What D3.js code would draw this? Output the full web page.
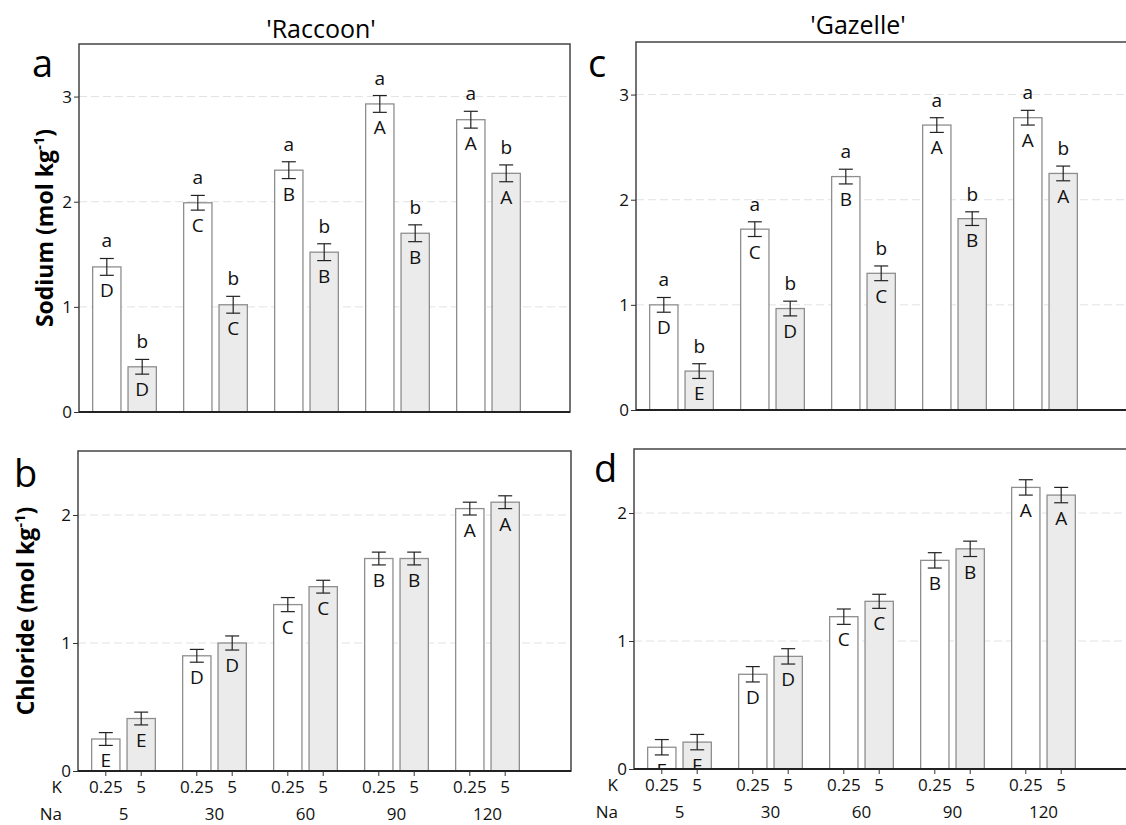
<!DOCTYPE html>
<html>
<head>
<meta charset="utf-8">
<script src="https://cdn.jsdelivr.net/npm/d3@7"></script>
<style>
  body { margin: 0; background: #fff; }
  svg { display: block; font-family: "Open Sans", sans-serif; }
</style>
</head>
<body>
<svg id="chart" width="1126" height="825"></svg>
<script>
// groups and levels
var naLevels = ['5', '30', '60', '90', '120'];
var kLevels = ['0.25', '5'];

// bar order: Na5 K0.25, Na5 K5, Na30 K0.25, ...
var sodiumRaccoon = [1.38, 0.43, 1.99, 1.02, 2.30, 1.52, 2.93, 1.70, 2.78, 2.27];
var sodiumRaccoonErr = [0.08, 0.07, 0.07, 0.08, 0.08, 0.08, 0.08, 0.08, 0.08, 0.08];
var sodiumRaccoonK = ['a', 'b', 'a', 'b', 'a', 'b', 'a', 'b', 'a', 'b'];
var sodiumRaccoonNa = ['D', 'D', 'C', 'C', 'B', 'B', 'A', 'B', 'A', 'A'];

var sodiumGazelle = [1.00, 0.37, 1.72, 0.965, 2.22, 1.30, 2.71, 1.82, 2.78, 2.25];
var sodiumGazelleErr = [0.07, 0.07, 0.07, 0.07, 0.07, 0.07, 0.07, 0.065, 0.07, 0.07];
var sodiumGazelleK = ['a', 'b', 'a', 'b', 'a', 'b', 'a', 'b', 'a', 'b'];
var sodiumGazelleNa = ['D', 'E', 'C', 'D', 'B', 'C', 'A', 'B', 'A', 'A'];

var chlorideRaccoon = [0.25, 0.41, 0.90, 1.00, 1.30, 1.44, 1.66, 1.66, 2.05, 2.10];
var chlorideRaccoonErr = [0.05, 0.05, 0.05, 0.055, 0.055, 0.05, 0.05, 0.05, 0.05, 0.05];
var chlorideRaccoonNa = ['E', 'E', 'D', 'D', 'C', 'C', 'B', 'B', 'A', 'A'];

var chlorideGazelle = [0.17, 0.21, 0.74, 0.88, 1.19, 1.31, 1.63, 1.72, 2.20, 2.14];
var chlorideGazelleErr = [0.06, 0.06, 0.06, 0.06, 0.06, 0.055, 0.06, 0.06, 0.06, 0.06];
var chlorideGazelleNa = ['E', 'E', 'D', 'D', 'C', 'C', 'B', 'B', 'A', 'A'];

var sodiumTicks = [0, 1, 2, 3];
var chlorideTicks = [0, 1, 2];

var svg = d3.select('#chart');

function drawPanel(p) {
  var g = svg.append('g');

  var y = d3.scaleLinear().domain([0, p.yMax]).range([p.bottom, p.top]);
  var x = d3.scaleBand().domain(naLevels)
    .range([p.left, p.left + 455])
    .paddingInner(0.3).paddingOuter(0.15);
  var xk = d3.scaleBand().domain(kLevels)
    .range([0, x.bandwidth()])
    .paddingInner(0.2);

  var bars = p.values.map(function(v, i) {
    return {
      na: naLevels[Math.floor(i / 2)],
      k: kLevels[i % 2],
      value: v,
      err: p.errors[i],
      lower: p.lower ? p.lower[i] : null,
      upper: p.upper[i]
    };
  });
  var cx = function(d) { return x(d.na) + xk(d.k) + xk.bandwidth() / 2; };

  var clipId = 'clip-' + p.id;
  svg.append('clipPath').attr('id', clipId)
    .append('rect')
    .attr('x', p.left).attr('y', p.top)
    .attr('width', p.width).attr('height', p.bottom - p.top);

  // dashed grid
  g.selectAll('.grid')
    .data(p.ticks.filter(function(t) { return t > 0; }))
    .enter().append('line')
    .attr('x1', p.left).attr('x2', p.left + p.width)
    .attr('y1', function(d) { return y(d); })
    .attr('y2', function(d) { return y(d); })
    .attr('stroke', '#e2e2e2')
    .attr('stroke-width', 1)
    .attr('stroke-dasharray', '8,4');

  // bars
  g.selectAll('.bar')
    .data(bars)
    .enter().append('rect')
    .attr('x', function(d) { return x(d.na) + xk(d.k); })
    .attr('width', xk.bandwidth())
    .attr('y', function(d) { return y(d.value); })
    .attr('height', function(d) { return y(0) - y(d.value); })
    .attr('fill', function(d) { return d.k === '5' ? '#ebebeb' : '#ffffff'; })
    .attr('stroke', '#8e8e8e')
    .attr('stroke-width', 1.3);

  // error bars
  var eb = g.selectAll('.err')
    .data(bars)
    .enter().append('g')
    .attr('stroke', '#222')
    .attr('stroke-width', 1.2);
  eb.append('line')
    .attr('x1', cx).attr('x2', cx)
    .attr('y1', function(d) { return y(d.value + d.err); })
    .attr('y2', function(d) { return y(d.value - d.err); });
  eb.append('line')
    .attr('x1', function(d) { return cx(d) - 7; })
    .attr('x2', function(d) { return cx(d) + 7; })
    .attr('y1', function(d) { return y(d.value + d.err); })
    .attr('y2', function(d) { return y(d.value + d.err); });
  eb.append('line')
    .attr('x1', function(d) { return cx(d) - 7; })
    .attr('x2', function(d) { return cx(d) + 7; })
    .attr('y1', function(d) { return y(d.value - d.err); })
    .attr('y2', function(d) { return y(d.value - d.err); });

  // letters
  var lbl = g.append('g').attr('clip-path', 'url(#' + clipId + ')')
    .attr('font-size', 19).attr('text-anchor', 'middle').attr('fill', '#111');
  if (p.lower) {
    lbl.selectAll('.lo')
      .data(bars)
      .enter().append('text')
      .attr('x', cx)
      .attr('y', function(d) { return y(d.value + d.err) - 11; })
      .text(function(d) { return d.lower; });
  }
  lbl.selectAll('.up')
    .data(bars)
    .enter().append('text')
    .attr('x', cx)
    .attr('y', function(d) { return y(d.value - d.err) + 22; })
    .text(function(d) { return d.upper; });

  // frame
  g.append('rect')
    .attr('x', p.left).attr('y', p.top)
    .attr('width', p.width).attr('height', p.bottom - p.top)
    .attr('fill', 'none')
    .attr('stroke', '#444')
    .attr('stroke-width', 1.5);
  g.append('line')
    .attr('x1', p.left).attr('x2', p.left + p.width)
    .attr('y1', p.bottom).attr('y2', p.bottom)
    .attr('stroke', '#222').attr('stroke-width', 2);

  // y axis
  var yAxis = g.append('g')
    .attr('transform', 'translate(' + p.left + ',0)')
    .call(d3.axisLeft(y).tickValues(p.ticks).tickSize(5).tickPadding(2).tickFormat(d3.format('d')));
  yAxis.select('.domain').remove();
  yAxis.selectAll('line').attr('stroke', '#333');
  yAxis.selectAll('text')
    .attr('font-size', 17).attr('fill', '#111')
    .attr('font-family', '"Open Sans", sans-serif');

  // x labels
  if (p.xLabels) {
    g.selectAll('.xt')
      .data(bars)
      .enter().append('line')
      .attr('x1', cx).attr('x2', cx)
      .attr('y1', p.bottom).attr('y2', p.bottom + 5)
      .attr('stroke', '#333');
    g.selectAll('.xk')
      .data(bars)
      .enter().append('text')
      .attr('x', cx)
      .attr('y', p.bottom + 22)
      .attr('text-anchor', 'middle')
      .attr('font-size', 17).attr('fill', '#111')
      .text(function(d) { return d.k; });
    g.selectAll('.xn')
      .data(naLevels)
      .enter().append('text')
      .attr('x', function(d) { return x(d) + x.bandwidth() / 2; })
      .attr('y', p.bottom + 49)
      .attr('text-anchor', 'middle')
      .attr('font-size', 17).attr('fill', '#111')
      .text(function(d) { return d; });
    g.append('text')
      .attr('x', p.left - 16).attr('y', p.bottom + 22)
      .attr('text-anchor', 'end').attr('font-size', 17).attr('fill', '#111')
      .text('K');
    g.append('text')
      .attr('x', p.left - 16).attr('y', p.bottom + 49)
      .attr('text-anchor', 'end').attr('font-size', 17).attr('fill', '#111')
      .text('Na');
  }

  // panel letter
  g.append('text')
    .attr('x', p.letterX).attr('y', p.letterY)
    .attr('font-size', 38).attr('fill', '#000')
    .text(p.letter);

  // title
  if (p.title) {
    g.append('text')
      .attr('x', p.titleX).attr('y', p.titleY)
      .attr('text-anchor', 'middle')
      .attr('font-size', 25).attr('fill', '#000')
      .text(p.title);
  }

  // y label
  if (p.yLabel) {
    var cy = (p.top + p.bottom) / 2;
    var t = g.append('text')
      .attr('transform', 'translate(' + p.yLabelX + ',' + cy + ') rotate(-90)')
      .attr('text-anchor', 'middle')
      .attr('font-size', 23).attr('font-weight', 'bold').attr('fill', '#000');
    t.append('tspan').text(p.yLabel + ' (mol kg');
    t.append('tspan').attr('dy', -9).attr('font-size', 15).text('-1');
    t.append('tspan').attr('dy', 9).text(')');
  }
}

drawPanel({
  id: 'a', left: 79, top: 44, bottom: 412, width: 491, yMax: 3.5, ticks: sodiumTicks,
  values: sodiumRaccoon, errors: sodiumRaccoonErr, lower: sodiumRaccoonK, upper: sodiumRaccoonNa,
  letter: 'a', letterX: 32, letterY: 77, title: "'Raccoon'", titleX: 321, titleY: 38,
  yLabel: 'Sodium', yLabelX: 53, xLabels: false
});
drawPanel({
  id: 'c', left: 636, top: 42, bottom: 410, width: 491, yMax: 3.5, ticks: sodiumTicks,
  values: sodiumGazelle, errors: sodiumGazelleErr, lower: sodiumGazelleK, upper: sodiumGazelleNa,
  letter: 'c', letterX: 588, letterY: 77, title: "'Gazelle'", titleX: 858, titleY: 34,
  yLabel: null, xLabels: false
});
drawPanel({
  id: 'b', left: 78, top: 451, bottom: 771, width: 493, yMax: 2.5, ticks: chlorideTicks,
  values: chlorideRaccoon, errors: chlorideRaccoonErr, lower: null, upper: chlorideRaccoonNa,
  letter: 'b', letterX: 14, letterY: 487, title: null,
  yLabel: 'Chloride', yLabelX: 34, xLabels: true
});
drawPanel({
  id: 'd', left: 634, top: 449, bottom: 769, width: 493, yMax: 2.5, ticks: chlorideTicks,
  values: chlorideGazelle, errors: chlorideGazelleErr, lower: null, upper: chlorideGazelleNa,
  letter: 'd', letterX: 594, letterY: 482, title: null,
  yLabel: null, xLabels: true
});
</script>
</body>
</html>
